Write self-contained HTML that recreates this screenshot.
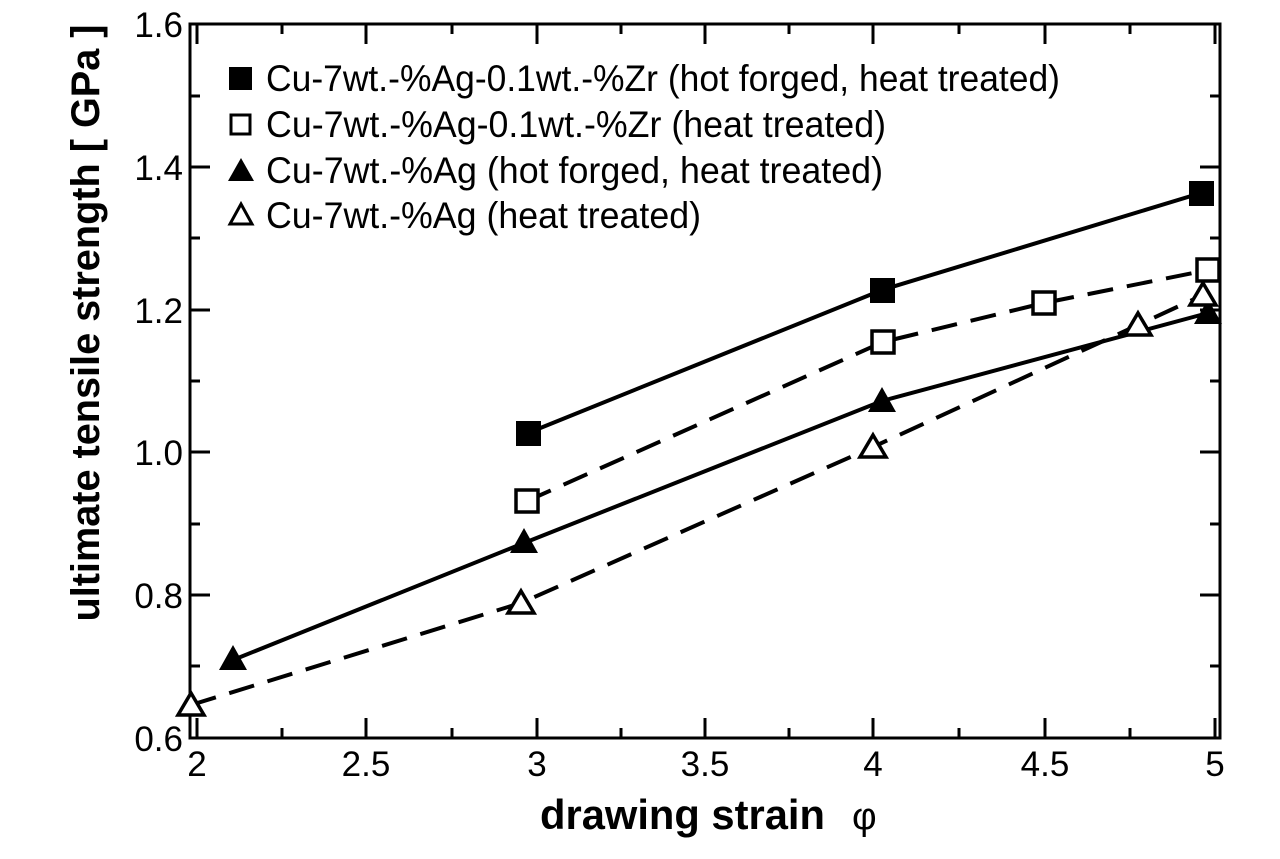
<!DOCTYPE html>
<html><head><meta charset="utf-8"><style>html,body{margin:0;padding:0;background:#fff}</style></head>
<body>
<svg width="1280" height="854" viewBox="0 0 1280 854" xmlns="http://www.w3.org/2000/svg" font-family="Liberation Sans, sans-serif">
<rect width="1280" height="854" fill="#fff"/>
<g stroke="#000" stroke-width="3" fill="none">
<rect x="190" y="24" width="1030" height="714"/>
<path d="M197,738v-20M366,738v-20M537,738v-20M705,738v-20M873,738v-20M1045,738v-20M1215,738v-20
M282,738v-10M452,738v-10M621,738v-10M789,738v-10M959,738v-10M1130,738v-10
M197,24v20M366,24v20M537,24v20M705,24v20M873,24v20M1045,24v20M1215,24v20
M282,24v10M452,24v10M621,24v10M789,24v10M959,24v10M1130,24v10"/>
<path d="M190,167h20M190,310h20M190,452h20M190,595h20M190,96h10M190,238h10M190,381h10M190,524h10M190,666h10
M1220,167h-20M1220,310h-20M1220,452h-20M1220,595h-20M1220,96h-10M1220,238h-10M1220,381h-10M1220,524h-10M1220,666h-10"/>
</g>
<g font-size="35" fill="#000" text-anchor="end">
<text x="183" y="37">1.6</text><text x="183" y="180">1.4</text><text x="183" y="323">1.2</text>
<text x="183" y="465">1.0</text><text x="183" y="608">0.8</text><text x="183" y="751">0.6</text>
</g>
<g font-size="35" fill="#000" text-anchor="middle">
<text x="197" y="776">2</text><text x="366" y="776">2.5</text><text x="537" y="776">3</text>
<text x="705" y="776">3.5</text><text x="873" y="776">4</text><text x="1045" y="776">4.5</text><text x="1215" y="776">5</text>
</g>
<text x="540" y="829" font-size="42" font-weight="bold" textLength="285" lengthAdjust="spacingAndGlyphs">drawing strain</text>
<text x="852" y="829" font-size="38">φ</text>
<text transform="translate(99,323) rotate(-90)" text-anchor="middle" font-size="40" font-weight="bold" textLength="597" lengthAdjust="spacingAndGlyphs">ultimate tensile strength  [ GPa ]</text>
<g stroke="#000" stroke-width="4" fill="none">
<polyline points="528,433 882,290 1201,193"/>
<polyline points="527,501 883,342 1044,303 1208,270" stroke-dasharray="26,14"/>
<polyline points="233,660 524,543 882,401 1208,313"/>
<polyline points="191,705 521,603 873,447 1138,325 1203,295" stroke-dasharray="26,14"/>
</g>
<g fill="#000">
<rect x="516" y="421" width="25" height="25"/><rect x="870" y="278" width="25" height="25"/><rect x="1189" y="181" width="25" height="25"/>
<path d="M233,645 L247,670 L219,670Z M524,528 L538,553 L510,553Z M882,387 L896,412 L868,412Z M1208,299 L1222,324 L1194,324Z"/>
</g>
<g fill="#fff" stroke="#000" stroke-width="3.5">
<rect x="516" y="490" width="22" height="22"/><rect x="872" y="331" width="22" height="22"/><rect x="1033" y="292" width="22" height="22"/><rect x="1197" y="259" width="22" height="22"/>
<path d="M191,693 L204,715 L178,715Z M521,591 L534,613 L508,613Z M873,435 L886,457 L860,457Z M1138,313 L1151,335 L1125,335Z M1203,283 L1216,305 L1190,305Z"/>
</g>
<rect x="229" y="67" width="23" height="23" fill="#000"/>
<rect x="231" y="115" width="19" height="19" fill="#fff" stroke="#000" stroke-width="3"/>
<path d="M241,158 L254,181 L228,181Z" fill="#000"/>
<path d="M241,204 L252,224 L230,224Z" fill="#fff" stroke="#000" stroke-width="3"/>
<g font-size="37" fill="#000" lengthAdjust="spacingAndGlyphs">
<text x="266" y="91" textLength="794" lengthAdjust="spacingAndGlyphs">Cu-7wt.-%Ag-0.1wt.-%Zr (hot forged, heat treated)</text>
<text x="266" y="137" textLength="620" lengthAdjust="spacingAndGlyphs">Cu-7wt.-%Ag-0.1wt.-%Zr (heat treated)</text>
<text x="266" y="183" textLength="617" lengthAdjust="spacingAndGlyphs">Cu-7wt.-%Ag (hot forged, heat treated)</text>
<text x="266" y="228" textLength="435" lengthAdjust="spacingAndGlyphs">Cu-7wt.-%Ag (heat treated)</text>
</g>
</svg>
</body></html>
